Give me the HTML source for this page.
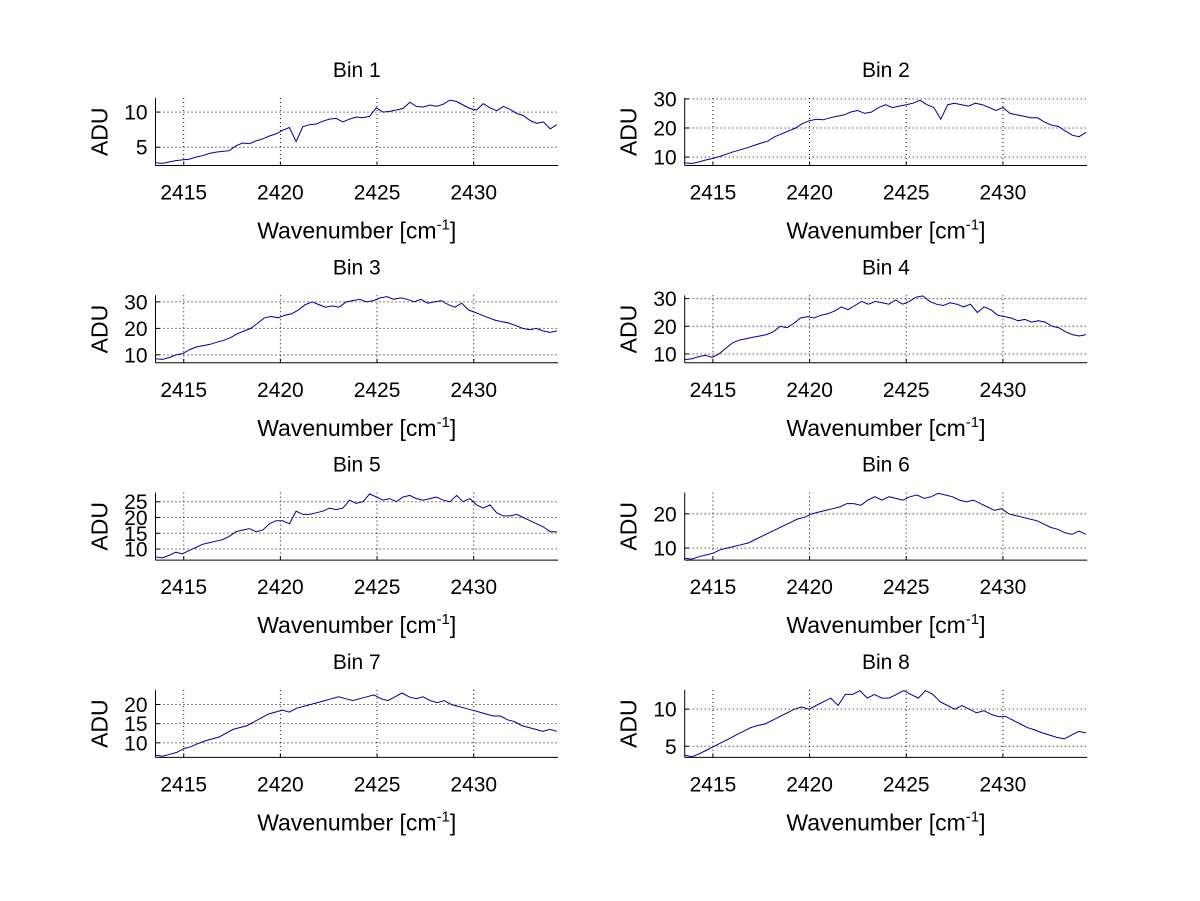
<!DOCTYPE html>
<html><head><meta charset="utf-8"><style>
body{margin:0;background:#fff;}
svg{display:block;font-family:"Liberation Sans",sans-serif;}
</style></head><body>
<svg id="fig" width="1200" height="901" viewBox="0 0 1200 901"></svg>
<script>
const xTicks=[2415,2420,2425,2430];
const xRange=[2413.54,2434.36];
const titles=["Bin 1","Bin 2","Bin 3","Bin 4","Bin 5","Bin 6","Bin 7","Bin 8"];
const yRanges=[[2.4,12.0],[7.1,30.3],[7.0,32.5],[6.8,31.2],[6.5,27.9],[6.5,26.2],[6.2,23.8],[3.5,12.6]];
const yTicks=[[5,10],[10,20,30],[10,20,30],[10,20,30],[10,15,20,25],[10,20],[10,15,20],[5,10]];
const bin1=[2.8,2.7,2.9,3.1,3.2,3.3,3.6,3.8,4.1,4.3,4.4,4.5,5.2,5.6,5.5,5.9,6.2,6.6,6.9,7.4,7.8,5.8,7.9,8.2,8.3,8.7,9.0,9.1,8.6,9.0,9.3,9.2,9.4,10.6,10.0,10.1,10.3,10.5,11.4,10.8,10.7,11.0,10.8,11.1,11.7,11.5,11.0,10.5,10.3,11.2,10.6,10.2,10.8,10.4,9.8,9.5,8.8,8.4,8.6,7.6,8.2];
const bin2=[8,7.8,8.3,9,9.5,10.2,11,11.8,12.5,13.2,14,14.8,15.5,17,18,19,20,21.5,22.5,23,22.8,23.5,24,24.5,25.5,26,25,25.5,27,28,27,27.5,28,28.5,29.5,28,27,23,28,28.5,28,27.5,28.5,28,27,26,27,25,24.5,24,23.5,23.5,22,21,20.5,19,17.5,17,18.5];
const bin3=[8.5,8.3,9,10,10.5,12,13,13.5,14,14.8,15.5,16.5,18,19,20,22,24,24.5,24,25,25.5,27,29,30,29,28,28.5,28,30,30.5,31,30,30.5,31.5,32,31,31.5,31,30,31,29.5,30,30.5,29,28,29.5,27,26,25,24,23,22.5,22,21,20,19.5,20,19,18.5,19];
const bin4=[8,8.2,9,9.5,8.8,10,12,14,15,15.5,16,16.5,17,18,20,19.5,21,23,23.5,23,24,24.5,25.5,27,26,27.5,29,28,29,28.5,28,29.5,28,29,30.5,31,29,28,27.5,28.5,28,27,28,25,27,26,24,23.5,23,22,22.5,21.5,22,21.5,20,19.5,18,17,16.5,17];
const bin5=[7.5,7.2,8,9,8.5,9.5,10.5,11.5,12,12.5,13,14,15.5,16,16.5,15.5,16,18,19,19,18,22,21,21,21.5,22,23,22.5,23,25.5,24.5,25,27.5,26.5,25.5,26,25,26.5,27,26,25.5,26,26.5,25.5,25,27,25,26,24,23,24,21.5,20.5,20.5,21,20,19,18,17,15.5,15.5];
const bin6=[7,6.8,7.5,8,8.5,9.5,10,10.5,11,11.5,12.5,13.5,14.5,15.5,16.5,17.5,18.5,19,20,20.5,21,21.5,22,23,23,22.5,24,25,24,25,24.5,24,25,25.5,24.5,25,26,25.5,25,24,23.5,24,23,22,21,21.5,20,19.5,19,18.5,18,17,16,15.5,14.5,14,15,14];
const bin7=[6.8,6.5,7,7.5,8.5,9,9.8,10.5,11,11.5,12.5,13.5,14,14.5,15.5,16.5,17.5,18,18.5,18,19,19.5,20,20.5,21,21.5,22,21.5,21,21.5,22,22.5,21.5,21,22,23,22,21.5,22,21,20.5,21,20,19.5,19,18.5,18,17.5,17,17,16,15.5,14.5,14,13.5,13,13.5,13];
const bin8=[3.8,3.6,4,4.5,5,5.5,6,6.5,7,7.5,7.8,8,8.5,9,9.5,10,10.3,10,10.5,11,11.5,10.5,12,12,12.5,11.5,12,11.5,11.5,12,12.5,12,11.5,12.5,12,11,10.5,10,10.5,10,9.5,9.8,9.3,9,9,8.5,8,7.5,7.2,6.8,6.5,6.2,6,6.5,7,6.8];
const series=[bin1,bin2,bin3,bin4,bin5,bin6,bin7,bin8];
const dataStart=2413.55, dataEnd=2434.3;

const NS="http://www.w3.org/2000/svg";
const svg=document.getElementById('fig');
function mk(tag,attrs,parent){const e=document.createElementNS(NS,tag);for(const k in attrs)e.setAttribute(k,attrs[k]);(parent||svg).appendChild(e);return e;}
const W=402.5,H=67.5;
for(let i=0;i<8;i++){
  const col=i%2,row=Math.floor(i/2);
  const L=col?684.7:155.5, T=98+row*197.3;
  const g=mk('g',{});
  
  
  const yr=yRanges[i];
  const sx=v=>L+(v-xRange[0])/(xRange[1]-xRange[0])*W;
  const sy=v=>T+H-(v-yr[0])/(yr[1]-yr[0])*H;
  xTicks.forEach(t=>{
    const l=mk('line',{x1:sx(t),x2:sx(t),y1:T,y2:T+H,stroke:'#000','stroke-width':1,'stroke-dasharray':'1,3'},g);
    
    
    mk('line',{x1:sx(t),x2:sx(t),y1:T+H,y2:T+H-4,stroke:'#000'},g);
    const tx=mk('text',{x:sx(t),y:T+H+34,'font-size':21,'text-anchor':'middle'},g);
    tx.textContent=t;
    
    
  });
  yTicks[i].forEach(t=>{
    const l=mk('line',{x1:L,x2:L+W,y1:sy(t),y2:sy(t),stroke:'#000','stroke-width':1,'stroke-dasharray':'1,3'},g);
    
    
    mk('line',{x1:L,x2:L+4,y1:sy(t),y2:sy(t),stroke:'#000'},g);
    const tx=mk('text',{x:L-8,y:sy(t)+7.5,'font-size':21,'text-anchor':'end'},g);
    tx.textContent=t;
    
    
  });
  mk('line',{x1:L,x2:L+W,y1:T+H,y2:T+H,stroke:'#000'},g);
  mk('line',{x1:L,x2:L,y1:T,y2:T+H,stroke:'#000'},g);
  const d=series[i], n=d.length, step=(dataEnd-dataStart)/(n-1);
  const pts=d.map((v,k)=>sx(dataStart+k*step).toFixed(1)+','+sy(v).toFixed(1)).join(' ');
  const pl=mk('polyline',{points:pts,fill:'none',stroke:'#00008b','stroke-width':1},g);
  
  
  const ti=mk('text',{x:L+W/2,y:T-21,'font-size':21,'text-anchor':'middle'},g);
  ti.textContent=titles[i];
  
  
  const xl=mk('text',{x:L+W/2,y:T+H+73,'font-size':23,'text-anchor':'middle'},g);
  xl.innerHTML='Wavenumber [cm<tspan font-size="15" dy="-9">-1</tspan><tspan dy="9">]</tspan>';
  
  
  const yl=mk('text',{x:0,y:0,'font-size':23,'text-anchor':'middle',transform:`translate(${L-48},${T+H/2}) rotate(-90)`},g);
  yl.textContent='ADU';
  
  
}
</script>
</body></html>
